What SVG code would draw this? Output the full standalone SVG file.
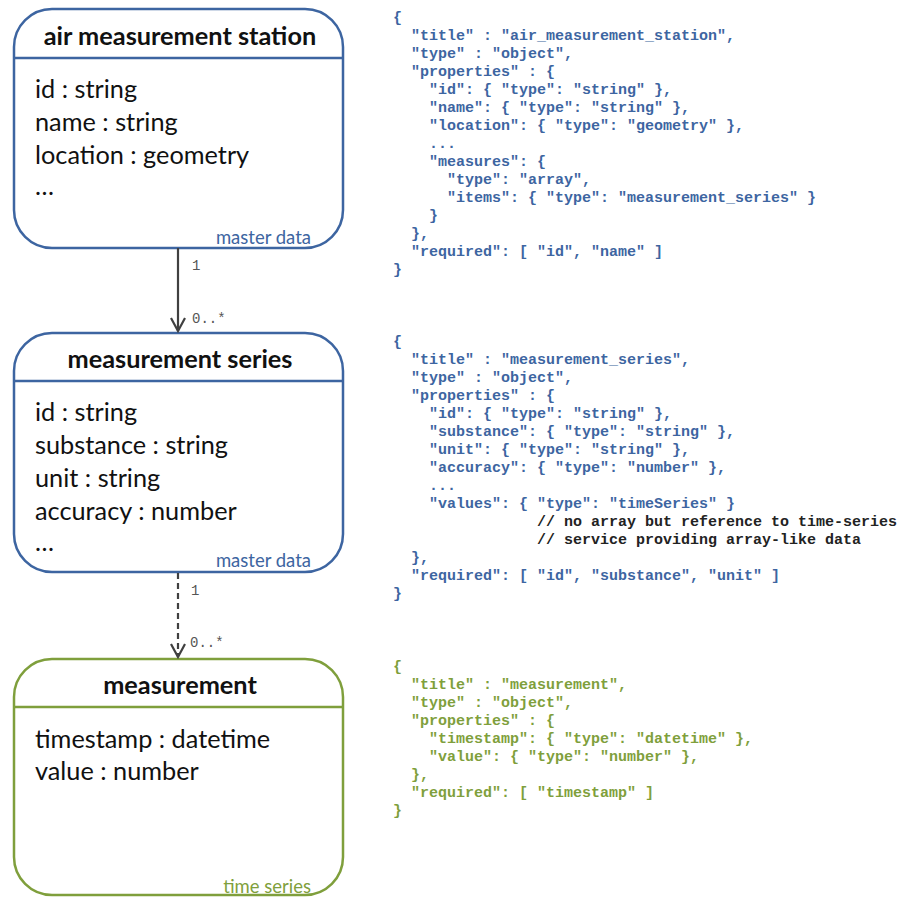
<svg xmlns="http://www.w3.org/2000/svg" width="903" height="897" viewBox="0 0 903 897">
<style>
.box{fill:#fff;stroke-width:2.5}
.blue{stroke:#3d65a1}
.green{stroke:#7f9f3c}
.title{font-family:Lato,"Liberation Sans",sans-serif;font-weight:bold;font-size:25.3px;fill:#111;text-anchor:middle}
.attr{font-family:Lato,"Liberation Sans",sans-serif;font-size:25.3px;fill:#111}
.tag{font-family:Lato,"Liberation Sans",sans-serif;font-size:18.5px;text-anchor:end}
.code{font-family:"Liberation Mono",monospace;font-weight:bold;font-size:15px}
.cb{fill:#3d65a1}
.cg{fill:#7f9f3c}
.ck{fill:#222}
.mult{font-family:"Liberation Mono",monospace;font-size:14px;fill:#555}
.conn{stroke:#404040;stroke-width:2.2;fill:none}
</style>
<defs>
<marker id="arr" viewBox="0 0 16 16" refX="14" refY="8" markerWidth="16" markerHeight="16" markerUnits="userSpaceOnUse" orient="auto">
<path d="M1,1 L14,8 L1,15" fill="none" stroke="#404040" stroke-width="2.2"/>
</marker>
</defs>

<g id="station">
<rect class="box blue" x="14" y="9" width="329" height="239" rx="38" ry="38"/>
<line class="blue" x1="14" y1="58" x2="343" y2="58" stroke-width="2.5"/>
<text class="title" x="180" y="45">air measurement station</text>
<text class="attr" x="35" y="98">id : string</text>
<text class="attr" x="35" y="131">name : string</text>
<text class="attr" x="35" y="164">location : geometry</text>
<text class="attr" x="35" y="195">…</text>
<text class="tag cb" x="311" y="244">master data</text>
</g>

<g id="series">
<rect class="box blue" x="14" y="333" width="329" height="239" rx="38" ry="38"/>
<line class="blue" x1="14" y1="381" x2="343" y2="381" stroke-width="2.5"/>
<text class="title" x="180" y="368">measurement series</text>
<text class="attr" x="35" y="421">id : string</text>
<text class="attr" x="35" y="454">substance : string</text>
<text class="attr" x="35" y="487">unit : string</text>
<text class="attr" x="35" y="520">accuracy : number</text>
<text class="attr" x="35" y="551">…</text>
<text class="tag cb" x="311" y="567">master data</text>
</g>

<g id="measurement">
<rect class="box green" x="14" y="659" width="329" height="236" rx="38" ry="38"/>
<line class="green" x1="14" y1="707" x2="343" y2="707" stroke-width="2.5"/>
<text class="title" x="180" y="694">measurement</text>
<text class="attr" x="35" y="748">timestamp : datetime</text>
<text class="attr" x="35" y="780">value : number</text>
<text class="tag cg" x="311" y="893">time series</text>
</g>

<g id="connectors">
<line class="conn" x1="178" y1="248" x2="178" y2="331" marker-end="url(#arr)"/>
<text class="mult" x="192" y="270">1</text>
<text class="mult" x="192" y="323">0..*</text>
<line class="conn" x1="178" y1="573" x2="178" y2="657" stroke-dasharray="6,4" marker-end="url(#arr)"/>
<text class="mult" x="191" y="595">1</text>
<text class="mult" x="190" y="647">0..*</text>
</g>

<g id="schema-station" class="code cb">
<text x="393" y="22">{</text>
<text x="411" y="40">"title" : "air_measurement_station",</text>
<text x="411" y="58">"type" : "object",</text>
<text x="411" y="76">"properties" : {</text>
<text x="429" y="94">"id": { "type": "string" },</text>
<text x="429" y="112">"name": { "type": "string" },</text>
<text x="429" y="130">"location": { "type": "geometry" },</text>
<text x="429" y="148">...</text>
<text x="429" y="166">"measures": {</text>
<text x="447" y="184">"type": "array",</text>
<text x="447" y="202">"items": { "type": "measurement_series" }</text>
<text x="429" y="220">}</text>
<text x="411" y="238">},</text>
<text x="411" y="256">"required": [ "id", "name" ]</text>
<text x="393" y="274">}</text>
</g>

<g id="schema-series" class="code cb">
<text x="393" y="346">{</text>
<text x="411" y="364">"title" : "measurement_series",</text>
<text x="411" y="382">"type" : "object",</text>
<text x="411" y="400">"properties" : {</text>
<text x="429" y="418">"id": { "type": "string" },</text>
<text x="429" y="436">"substance": { "type": "string" },</text>
<text x="429" y="454">"unit": { "type": "string" },</text>
<text x="429" y="472">"accuracy": { "type": "number" },</text>
<text x="429" y="490">...</text>
<text x="429" y="508">"values": { "type": "timeSeries" }</text>
<text class="ck" x="537" y="526">// no array but reference to time-series</text>
<text class="ck" x="537" y="544">// service providing array-like data</text>
<text x="411" y="562">},</text>
<text x="411" y="580">"required": [ "id", "substance", "unit" ]</text>
<text x="393" y="598">}</text>
</g>

<g id="schema-measurement" class="code cg">
<text x="393" y="671">{</text>
<text x="411" y="689">"title" : "measurement",</text>
<text x="411" y="707">"type" : "object",</text>
<text x="411" y="725">"properties" : {</text>
<text x="429" y="743">"timestamp": { "type": "datetime" },</text>
<text x="429" y="761">"value": { "type": "number" },</text>
<text x="411" y="779">},</text>
<text x="411" y="797">"required": [ "timestamp" ]</text>
<text x="393" y="815">}</text>
</g>
</svg>
